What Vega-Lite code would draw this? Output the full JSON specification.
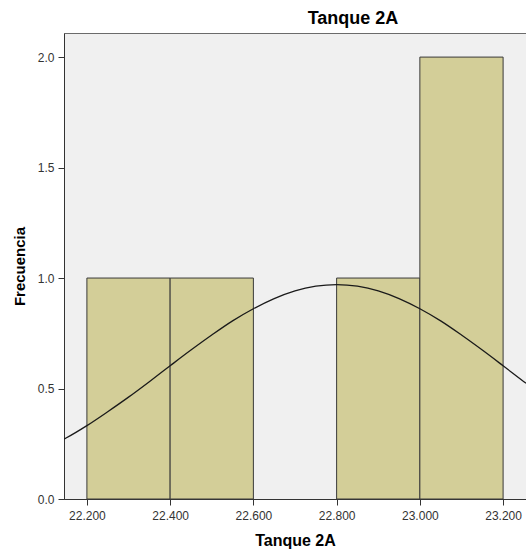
{
  "$schema": "https://vega.github.io/schema/vega-lite/v6.json",
  "autosize": {"type": "none"},
  "padding": {"left": 64, "top": 33, "right": 0, "bottom": 56},
  "width": 462,
  "height": 466,
  "background": "#ffffff",
  "config": {
    "font": "Liberation Sans",
    "view": {"fill": "#F0F0F0", "stroke": "#6b6b6b", "strokeWidth": 1},
    "axis": {
      "grid": false,
      "domainColor": "#333333",
      "tickColor": "#333333",
      "labelColor": "#333333",
      "labelFont": "Liberation Sans",
      "labelFontSize": 12,
      "titleFont": "Liberation Sans",
      "titleFontWeight": "bold",
      "titleColor": "#000000",
      "tickSize": 6
    }
  },
  "title": {
    "text": "Tanque 2A",
    "font": "Liberation Sans",
    "fontSize": 18,
    "fontWeight": "bold",
    "color": "#000000",
    "anchor": "middle",
    "dx": 58,
    "offset": 5
  },
  "datasets": {
    "bins": [
      {"bin_start": 22.2, "bin_end": 22.4, "count": 1},
      {"bin_start": 22.4, "bin_end": 22.6, "count": 1},
      {"bin_start": 22.8, "bin_end": 23.0, "count": 1},
      {"bin_start": 23.0, "bin_end": 23.2, "count": 2}
    ],
    "curve": [
      {"x": 22.145, "y": 0.271},
      {"x": 22.15, "y": 0.276},
      {"x": 22.2, "y": 0.332},
      {"x": 22.25, "y": 0.395},
      {"x": 22.3, "y": 0.461},
      {"x": 22.35, "y": 0.531},
      {"x": 22.4, "y": 0.603},
      {"x": 22.45, "y": 0.674},
      {"x": 22.5, "y": 0.742},
      {"x": 22.55, "y": 0.806},
      {"x": 22.6, "y": 0.861},
      {"x": 22.65, "y": 0.907},
      {"x": 22.7, "y": 0.942},
      {"x": 22.75, "y": 0.963},
      {"x": 22.8, "y": 0.97},
      {"x": 22.85, "y": 0.963},
      {"x": 22.9, "y": 0.942},
      {"x": 22.95, "y": 0.907},
      {"x": 23.0, "y": 0.861},
      {"x": 23.05, "y": 0.806},
      {"x": 23.1, "y": 0.742},
      {"x": 23.15, "y": 0.674},
      {"x": 23.2, "y": 0.603},
      {"x": 23.25, "y": 0.531},
      {"x": 23.255, "y": 0.524}
    ]
  },
  "layer": [
    {
      "data": {"name": "bins"},
      "mark": {"type": "rect", "fill": "#D3CE98", "stroke": "#3a3a3a", "strokeWidth": 1},
      "encoding": {
        "x": {
          "field": "bin_start",
          "type": "quantitative",
          "scale": {"domain": [22.145, 23.255], "nice": false, "zero": false},
          "axis": {
            "title": "Tanque 2A",
            "titleFontSize": 16,
            "values": [22.2, 22.4, 22.6, 22.8, 23.0, 23.2],
            "format": ".3f",
            "labelPadding": 5,
            "titlePadding": 11
          }
        },
        "x2": {"field": "bin_end"},
        "y": {
          "field": "count",
          "type": "quantitative",
          "scale": {"domain": [0, 2.109], "nice": false},
          "axis": {
            "title": "Frecuencia",
            "titleFontSize": 15,
            "values": [0, 0.5, 1, 1.5, 2],
            "format": ".1f",
            "labelPadding": 4,
            "titlePadding": 10
          }
        },
        "y2": {"datum": 0}
      }
    },
    {
      "data": {"name": "curve"},
      "mark": {"type": "line", "color": "#1a1a1a", "strokeWidth": 1.3, "interpolate": "monotone", "clip": true},
      "encoding": {
        "x": {"field": "x", "type": "quantitative"},
        "y": {"field": "y", "type": "quantitative"}
      }
    }
  ]
}
